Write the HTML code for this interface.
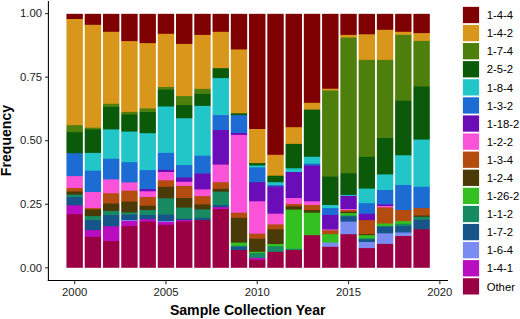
<!DOCTYPE html>
<html><head><meta charset="utf-8"><style>
html,body{margin:0;padding:0;background:#fff;}
body{width:520px;height:319px;overflow:hidden;}
svg{display:block;font-family:"Liberation Sans",sans-serif;}
</style></head><body>
<svg width="520" height="319" viewBox="0 0 520 319">
<rect x="0" y="0" width="520" height="319" fill="#fff"/>
<defs><mask id="c0" maskUnits="userSpaceOnUse" x="0" y="0" width="520" height="319"><rect x="66.44" y="13.6" width="16.43" height="254.2" fill="#fff"/></mask><mask id="c1" maskUnits="userSpaceOnUse" x="0" y="0" width="520" height="319"><rect x="84.7" y="13.6" width="16.43" height="254.2" fill="#fff"/></mask><mask id="c2" maskUnits="userSpaceOnUse" x="0" y="0" width="520" height="319"><rect x="102.96" y="13.6" width="16.43" height="254.2" fill="#fff"/></mask><mask id="c3" maskUnits="userSpaceOnUse" x="0" y="0" width="520" height="319"><rect x="121.22" y="13.6" width="16.43" height="254.2" fill="#fff"/></mask><mask id="c4" maskUnits="userSpaceOnUse" x="0" y="0" width="520" height="319"><rect x="139.47" y="13.6" width="16.43" height="254.2" fill="#fff"/></mask><mask id="c5" maskUnits="userSpaceOnUse" x="0" y="0" width="520" height="319"><rect x="157.74" y="13.6" width="16.43" height="254.2" fill="#fff"/></mask><mask id="c6" maskUnits="userSpaceOnUse" x="0" y="0" width="520" height="319"><rect x="176" y="13.6" width="16.43" height="254.2" fill="#fff"/></mask><mask id="c7" maskUnits="userSpaceOnUse" x="0" y="0" width="520" height="319"><rect x="194.26" y="13.6" width="16.43" height="254.2" fill="#fff"/></mask><mask id="c8" maskUnits="userSpaceOnUse" x="0" y="0" width="520" height="319"><rect x="212.52" y="13.6" width="16.43" height="254.2" fill="#fff"/></mask><mask id="c9" maskUnits="userSpaceOnUse" x="0" y="0" width="520" height="319"><rect x="230.78" y="13.6" width="16.43" height="254.2" fill="#fff"/></mask><mask id="c10" maskUnits="userSpaceOnUse" x="0" y="0" width="520" height="319"><rect x="249.03" y="13.6" width="16.43" height="254.2" fill="#fff"/></mask><mask id="c11" maskUnits="userSpaceOnUse" x="0" y="0" width="520" height="319"><rect x="267.3" y="13.6" width="16.43" height="254.2" fill="#fff"/></mask><mask id="c12" maskUnits="userSpaceOnUse" x="0" y="0" width="520" height="319"><rect x="285.56" y="13.6" width="16.43" height="254.2" fill="#fff"/></mask><mask id="c13" maskUnits="userSpaceOnUse" x="0" y="0" width="520" height="319"><rect x="303.82" y="13.6" width="16.43" height="254.2" fill="#fff"/></mask><mask id="c14" maskUnits="userSpaceOnUse" x="0" y="0" width="520" height="319"><rect x="322.08" y="13.6" width="16.43" height="254.2" fill="#fff"/></mask><mask id="c15" maskUnits="userSpaceOnUse" x="0" y="0" width="520" height="319"><rect x="340.34" y="13.6" width="16.43" height="254.2" fill="#fff"/></mask><mask id="c16" maskUnits="userSpaceOnUse" x="0" y="0" width="520" height="319"><rect x="358.6" y="13.6" width="16.43" height="254.2" fill="#fff"/></mask><mask id="c17" maskUnits="userSpaceOnUse" x="0" y="0" width="520" height="319"><rect x="376.86" y="13.6" width="16.43" height="254.2" fill="#fff"/></mask><mask id="c18" maskUnits="userSpaceOnUse" x="0" y="0" width="520" height="319"><rect x="395.12" y="13.6" width="16.43" height="254.2" fill="#fff"/></mask><mask id="c19" maskUnits="userSpaceOnUse" x="0" y="0" width="520" height="319"><rect x="413.38" y="13.6" width="16.43" height="254.2" fill="#fff"/></mask></defs>
<g mask="url(#c0)"><rect x="64.44" y="13.6" width="20.43" height="256.2" fill="#7f0000"/><rect x="64.44" y="19" width="20.43" height="250.8" fill="#d8961a"/><rect x="64.44" y="125.2" width="20.43" height="144.6" fill="#4e7f0c"/><rect x="64.44" y="132.2" width="20.43" height="137.6" fill="#0a5a0a"/><rect x="64.44" y="153.2" width="20.43" height="116.6" fill="#1c6cd4"/><rect x="64.44" y="176.1" width="20.43" height="93.7" fill="#fa52d8"/><rect x="64.44" y="188" width="20.43" height="81.8" fill="#b44c10"/><rect x="64.44" y="191.5" width="20.43" height="78.3" fill="#4a3a08"/><rect x="64.44" y="194.6" width="20.43" height="75.2" fill="#178a62"/><rect x="64.44" y="197" width="20.43" height="72.8" fill="#17548a"/><rect x="64.44" y="205.3" width="20.43" height="64.5" fill="#ba0cc0"/><rect x="64.44" y="214.2" width="20.43" height="55.6" fill="#9c0044"/></g>
<g mask="url(#c1)"><rect x="82.7" y="13.6" width="20.43" height="256.2" fill="#7f0000"/><rect x="82.7" y="24.8" width="20.43" height="245" fill="#d8961a"/><rect x="82.7" y="127.7" width="20.43" height="142.1" fill="#4e7f0c"/><rect x="82.7" y="129.4" width="20.43" height="140.4" fill="#0a5a0a"/><rect x="82.7" y="152.9" width="20.43" height="116.9" fill="#22c5c8"/><rect x="82.7" y="170.7" width="20.43" height="99.1" fill="#1c6cd4"/><rect x="82.7" y="192" width="20.43" height="77.8" fill="#fa52d8"/><rect x="82.7" y="208.1" width="20.43" height="61.7" fill="#b44c10"/><rect x="82.7" y="209.4" width="20.43" height="60.4" fill="#4a3a08"/><rect x="82.7" y="216.1" width="20.43" height="53.7" fill="#178a62"/><rect x="82.7" y="220.1" width="20.43" height="49.7" fill="#17548a"/><rect x="82.7" y="230.1" width="20.43" height="39.7" fill="#ba0cc0"/><rect x="82.7" y="236.9" width="20.43" height="32.9" fill="#9c0044"/></g>
<g mask="url(#c2)"><rect x="100.96" y="13.6" width="20.43" height="256.2" fill="#7f0000"/><rect x="100.96" y="31.8" width="20.43" height="238" fill="#d8961a"/><rect x="100.96" y="103.8" width="20.43" height="166" fill="#4e7f0c"/><rect x="100.96" y="106.9" width="20.43" height="162.9" fill="#0a5a0a"/><rect x="100.96" y="129.4" width="20.43" height="140.4" fill="#22c5c8"/><rect x="100.96" y="158.7" width="20.43" height="111.1" fill="#1c6cd4"/><rect x="100.96" y="179.4" width="20.43" height="90.4" fill="#fa52d8"/><rect x="100.96" y="193.3" width="20.43" height="76.5" fill="#b44c10"/><rect x="100.96" y="203.5" width="20.43" height="66.3" fill="#4a3a08"/><rect x="100.96" y="210.9" width="20.43" height="58.9" fill="#178a62"/><rect x="100.96" y="215" width="20.43" height="54.8" fill="#17548a"/><rect x="100.96" y="226.3" width="20.43" height="43.5" fill="#ba0cc0"/><rect x="100.96" y="241.1" width="20.43" height="28.7" fill="#9c0044"/></g>
<g mask="url(#c3)"><rect x="119.22" y="13.6" width="20.43" height="256.2" fill="#7f0000"/><rect x="119.22" y="41.1" width="20.43" height="228.7" fill="#d8961a"/><rect x="119.22" y="111.9" width="20.43" height="157.9" fill="#4e7f0c"/><rect x="119.22" y="114.5" width="20.43" height="155.3" fill="#0a5a0a"/><rect x="119.22" y="131.6" width="20.43" height="138.2" fill="#22c5c8"/><rect x="119.22" y="162.2" width="20.43" height="107.6" fill="#1c6cd4"/><rect x="119.22" y="182.4" width="20.43" height="87.4" fill="#fa52d8"/><rect x="119.22" y="190.7" width="20.43" height="79.1" fill="#b44c10"/><rect x="119.22" y="201.6" width="20.43" height="68.2" fill="#4a3a08"/><rect x="119.22" y="212.4" width="20.43" height="57.4" fill="#178a62"/><rect x="119.22" y="214.6" width="20.43" height="55.2" fill="#17548a"/><rect x="119.22" y="220.1" width="20.43" height="49.7" fill="#7a8cf2"/><rect x="119.22" y="221" width="20.43" height="48.8" fill="#ba0cc0"/><rect x="119.22" y="226.1" width="20.43" height="43.7" fill="#9c0044"/></g>
<g mask="url(#c4)"><rect x="137.47" y="13.6" width="20.43" height="256.2" fill="#7f0000"/><rect x="137.47" y="43.1" width="20.43" height="226.7" fill="#d8961a"/><rect x="137.47" y="108.4" width="20.43" height="161.4" fill="#4e7f0c"/><rect x="137.47" y="112" width="20.43" height="157.8" fill="#0a5a0a"/><rect x="137.47" y="133.2" width="20.43" height="136.6" fill="#22c5c8"/><rect x="137.47" y="170.1" width="20.43" height="99.7" fill="#1c6cd4"/><rect x="137.47" y="189.1" width="20.43" height="80.7" fill="#6a0cb8"/><rect x="137.47" y="191.3" width="20.43" height="78.5" fill="#fa52d8"/><rect x="137.47" y="197" width="20.43" height="72.8" fill="#b44c10"/><rect x="137.47" y="205.7" width="20.43" height="64.1" fill="#4a3a08"/><rect x="137.47" y="210" width="20.43" height="59.8" fill="#178a62"/><rect x="137.47" y="215" width="20.43" height="54.8" fill="#17548a"/><rect x="137.47" y="219.2" width="20.43" height="50.6" fill="#ba0cc0"/><rect x="137.47" y="221.6" width="20.43" height="48.2" fill="#9c0044"/></g>
<g mask="url(#c5)"><rect x="155.74" y="13.6" width="20.43" height="256.2" fill="#7f0000"/><rect x="155.74" y="33.8" width="20.43" height="236" fill="#d8961a"/><rect x="155.74" y="87" width="20.43" height="182.8" fill="#4e7f0c"/><rect x="155.74" y="89.6" width="20.43" height="180.2" fill="#0a5a0a"/><rect x="155.74" y="106.5" width="20.43" height="163.3" fill="#22c5c8"/><rect x="155.74" y="152.9" width="20.43" height="116.9" fill="#1c6cd4"/><rect x="155.74" y="169.8" width="20.43" height="100" fill="#6a0cb8"/><rect x="155.74" y="172" width="20.43" height="97.8" fill="#fa52d8"/><rect x="155.74" y="180.3" width="20.43" height="89.5" fill="#b44c10"/><rect x="155.74" y="186.8" width="20.43" height="83" fill="#4a3a08"/><rect x="155.74" y="198.3" width="20.43" height="71.5" fill="#178a62"/><rect x="155.74" y="214.6" width="20.43" height="55.2" fill="#17548a"/><rect x="155.74" y="221.1" width="20.43" height="48.7" fill="#7a8cf2"/><rect x="155.74" y="222" width="20.43" height="47.8" fill="#ba0cc0"/><rect x="155.74" y="224.8" width="20.43" height="45" fill="#9c0044"/></g>
<g mask="url(#c6)"><rect x="174" y="13.6" width="20.43" height="256.2" fill="#7f0000"/><rect x="174" y="43.9" width="20.43" height="225.9" fill="#d8961a"/><rect x="174" y="96.1" width="20.43" height="173.7" fill="#4e7f0c"/><rect x="174" y="105" width="20.43" height="164.8" fill="#0a5a0a"/><rect x="174" y="118.3" width="20.43" height="151.5" fill="#22c5c8"/><rect x="174" y="165" width="20.43" height="104.8" fill="#1c6cd4"/><rect x="174" y="177.5" width="20.43" height="92.3" fill="#6a0cb8"/><rect x="174" y="181.8" width="20.43" height="88" fill="#fa52d8"/><rect x="174" y="185.9" width="20.43" height="83.9" fill="#b44c10"/><rect x="174" y="198" width="20.43" height="71.8" fill="#4a3a08"/><rect x="174" y="207.6" width="20.43" height="62.2" fill="#178a62"/><rect x="174" y="218.7" width="20.43" height="51.1" fill="#17548a"/><rect x="174" y="220.1" width="20.43" height="49.7" fill="#ba0cc0"/><rect x="174" y="221.6" width="20.43" height="48.2" fill="#9c0044"/></g>
<g mask="url(#c7)"><rect x="192.26" y="13.6" width="20.43" height="256.2" fill="#7f0000"/><rect x="192.26" y="34.9" width="20.43" height="234.9" fill="#d8961a"/><rect x="192.26" y="88.9" width="20.43" height="180.9" fill="#4e7f0c"/><rect x="192.26" y="93.9" width="20.43" height="175.9" fill="#0a5a0a"/><rect x="192.26" y="105.9" width="20.43" height="163.9" fill="#22c5c8"/><rect x="192.26" y="155.7" width="20.43" height="114.1" fill="#1c6cd4"/><rect x="192.26" y="173.5" width="20.43" height="96.3" fill="#6a0cb8"/><rect x="192.26" y="189.4" width="20.43" height="80.4" fill="#fa52d8"/><rect x="192.26" y="196.1" width="20.43" height="73.7" fill="#b44c10"/><rect x="192.26" y="204.4" width="20.43" height="65.4" fill="#4a3a08"/><rect x="192.26" y="209.4" width="20.43" height="60.4" fill="#178a62"/><rect x="192.26" y="217.9" width="20.43" height="51.9" fill="#17548a"/><rect x="192.26" y="220.1" width="20.43" height="49.7" fill="#9c0044"/></g>
<g mask="url(#c8)"><rect x="210.52" y="13.6" width="20.43" height="256.2" fill="#7f0000"/><rect x="210.52" y="31.8" width="20.43" height="238" fill="#d8961a"/><rect x="210.52" y="68.2" width="20.43" height="201.6" fill="#0a5a0a"/><rect x="210.52" y="78.1" width="20.43" height="191.7" fill="#22c5c8"/><rect x="210.52" y="115.1" width="20.43" height="154.7" fill="#1c6cd4"/><rect x="210.52" y="130" width="20.43" height="139.8" fill="#6a0cb8"/><rect x="210.52" y="164.6" width="20.43" height="105.2" fill="#fa52d8"/><rect x="210.52" y="182.2" width="20.43" height="87.6" fill="#b44c10"/><rect x="210.52" y="188.8" width="20.43" height="81" fill="#4a3a08"/><rect x="210.52" y="191.7" width="20.43" height="78.1" fill="#178a62"/><rect x="210.52" y="205" width="20.43" height="64.8" fill="#17548a"/><rect x="210.52" y="207.2" width="20.43" height="62.6" fill="#ba0cc0"/><rect x="210.52" y="209" width="20.43" height="60.8" fill="#9c0044"/></g>
<g mask="url(#c9)"><rect x="228.78" y="13.6" width="20.43" height="256.2" fill="#7f0000"/><rect x="228.78" y="49.4" width="20.43" height="220.4" fill="#d8961a"/><rect x="228.78" y="113.3" width="20.43" height="156.5" fill="#0a5a0a"/><rect x="228.78" y="115.1" width="20.43" height="154.7" fill="#1c6cd4"/><rect x="228.78" y="133" width="20.43" height="136.8" fill="#6a0cb8"/><rect x="228.78" y="134.9" width="20.43" height="134.9" fill="#fa52d8"/><rect x="228.78" y="212.7" width="20.43" height="57.1" fill="#b44c10"/><rect x="228.78" y="217.9" width="20.43" height="51.9" fill="#4a3a08"/><rect x="228.78" y="242.6" width="20.43" height="27.2" fill="#34c020"/><rect x="228.78" y="245.7" width="20.43" height="24.1" fill="#178a62"/><rect x="228.78" y="246.8" width="20.43" height="23" fill="#17548a"/><rect x="228.78" y="250" width="20.43" height="19.8" fill="#9c0044"/></g>
<g mask="url(#c10)"><rect x="247.03" y="13.6" width="20.43" height="256.2" fill="#7f0000"/><rect x="247.03" y="129" width="20.43" height="140.8" fill="#d8961a"/><rect x="247.03" y="163.1" width="20.43" height="106.7" fill="#0a5a0a"/><rect x="247.03" y="165.5" width="20.43" height="104.3" fill="#22c5c8"/><rect x="247.03" y="167.4" width="20.43" height="102.4" fill="#1c6cd4"/><rect x="247.03" y="182.2" width="20.43" height="87.6" fill="#6a0cb8"/><rect x="247.03" y="201.3" width="20.43" height="68.5" fill="#fa52d8"/><rect x="247.03" y="233.7" width="20.43" height="36.1" fill="#b44c10"/><rect x="247.03" y="238.8" width="20.43" height="31" fill="#4a3a08"/><rect x="247.03" y="251.8" width="20.43" height="18" fill="#34c020"/><rect x="247.03" y="253.1" width="20.43" height="16.7" fill="#178a62"/><rect x="247.03" y="257.9" width="20.43" height="11.9" fill="#ba0cc0"/><rect x="247.03" y="259.8" width="20.43" height="10" fill="#9c0044"/></g>
<g mask="url(#c11)"><rect x="265.3" y="13.6" width="20.43" height="256.2" fill="#7f0000"/><rect x="265.3" y="154.8" width="20.43" height="115" fill="#d8961a"/><rect x="265.3" y="175.7" width="20.43" height="94.1" fill="#0a5a0a"/><rect x="265.3" y="182.2" width="20.43" height="87.6" fill="#22c5c8"/><rect x="265.3" y="185" width="20.43" height="84.8" fill="#1c6cd4"/><rect x="265.3" y="186.5" width="20.43" height="83.3" fill="#6a0cb8"/><rect x="265.3" y="213.7" width="20.43" height="56.1" fill="#fa52d8"/><rect x="265.3" y="224.4" width="20.43" height="45.4" fill="#b44c10"/><rect x="265.3" y="229.3" width="20.43" height="40.5" fill="#4a3a08"/><rect x="265.3" y="244" width="20.43" height="25.8" fill="#34c020"/><rect x="265.3" y="246.3" width="20.43" height="23.5" fill="#178a62"/><rect x="265.3" y="251.8" width="20.43" height="18" fill="#9c0044"/></g>
<g mask="url(#c12)"><rect x="283.56" y="13.6" width="20.43" height="256.2" fill="#7f0000"/><rect x="283.56" y="127.2" width="20.43" height="142.6" fill="#d8961a"/><rect x="283.56" y="143.9" width="20.43" height="125.9" fill="#0a5a0a"/><rect x="283.56" y="168.3" width="20.43" height="101.5" fill="#22c5c8"/><rect x="283.56" y="172" width="20.43" height="97.8" fill="#6a0cb8"/><rect x="283.56" y="198" width="20.43" height="71.8" fill="#fa52d8"/><rect x="283.56" y="204" width="20.43" height="65.8" fill="#b44c10"/><rect x="283.56" y="206.3" width="20.43" height="63.5" fill="#4a3a08"/><rect x="283.56" y="209.6" width="20.43" height="60.2" fill="#34c020"/><rect x="283.56" y="248.7" width="20.43" height="21.1" fill="#178a62"/><rect x="283.56" y="250" width="20.43" height="19.8" fill="#9c0044"/></g>
<g mask="url(#c13)"><rect x="301.82" y="13.6" width="20.43" height="256.2" fill="#7f0000"/><rect x="301.82" y="102.8" width="20.43" height="167" fill="#d8961a"/><rect x="301.82" y="109.6" width="20.43" height="160.2" fill="#0a5a0a"/><rect x="301.82" y="156.8" width="20.43" height="113" fill="#22c5c8"/><rect x="301.82" y="163.7" width="20.43" height="106.1" fill="#1c6cd4"/><rect x="301.82" y="165.5" width="20.43" height="104.3" fill="#6a0cb8"/><rect x="301.82" y="201.3" width="20.43" height="68.5" fill="#fa52d8"/><rect x="301.82" y="205" width="20.43" height="64.8" fill="#b44c10"/><rect x="301.82" y="210" width="20.43" height="59.8" fill="#4a3a08"/><rect x="301.82" y="212.7" width="20.43" height="57.1" fill="#34c020"/><rect x="301.82" y="235.2" width="20.43" height="34.6" fill="#9c0044"/></g>
<g mask="url(#c14)"><rect x="320.08" y="13.6" width="20.43" height="256.2" fill="#7f0000"/><rect x="320.08" y="88.7" width="20.43" height="181.1" fill="#d8961a"/><rect x="320.08" y="90.5" width="20.43" height="179.3" fill="#4e7f0c"/><rect x="320.08" y="176.6" width="20.43" height="93.2" fill="#0a5a0a"/><rect x="320.08" y="205" width="20.43" height="64.8" fill="#22c5c8"/><rect x="320.08" y="208.1" width="20.43" height="61.7" fill="#1c6cd4"/><rect x="320.08" y="215" width="20.43" height="54.8" fill="#6a0cb8"/><rect x="320.08" y="229.4" width="20.43" height="40.4" fill="#fa52d8"/><rect x="320.08" y="230.3" width="20.43" height="39.5" fill="#b44c10"/><rect x="320.08" y="234.2" width="20.43" height="35.6" fill="#34c020"/><rect x="320.08" y="242.6" width="20.43" height="27.2" fill="#7a8cf2"/><rect x="320.08" y="246.8" width="20.43" height="23" fill="#9c0044"/></g>
<g mask="url(#c15)"><rect x="338.34" y="13.6" width="20.43" height="256.2" fill="#7f0000"/><rect x="338.34" y="34.9" width="20.43" height="234.9" fill="#d8961a"/><rect x="338.34" y="37.6" width="20.43" height="232.2" fill="#4e7f0c"/><rect x="338.34" y="173.3" width="20.43" height="96.5" fill="#0a5a0a"/><rect x="338.34" y="194.9" width="20.43" height="74.9" fill="#22c5c8"/><rect x="338.34" y="195.9" width="20.43" height="73.9" fill="#6a0cb8"/><rect x="338.34" y="209" width="20.43" height="60.8" fill="#fa52d8"/><rect x="338.34" y="210" width="20.43" height="59.8" fill="#b44c10"/><rect x="338.34" y="211.8" width="20.43" height="58" fill="#4a3a08"/><rect x="338.34" y="213.1" width="20.43" height="56.7" fill="#34c020"/><rect x="338.34" y="215.5" width="20.43" height="54.3" fill="#178a62"/><rect x="338.34" y="216.4" width="20.43" height="53.4" fill="#17548a"/><rect x="338.34" y="221.6" width="20.43" height="48.2" fill="#7a8cf2"/><rect x="338.34" y="234.2" width="20.43" height="35.6" fill="#9c0044"/></g>
<g mask="url(#c16)"><rect x="356.6" y="13.6" width="20.43" height="256.2" fill="#7f0000"/><rect x="356.6" y="34.3" width="20.43" height="235.5" fill="#d8961a"/><rect x="356.6" y="59.9" width="20.43" height="209.9" fill="#4e7f0c"/><rect x="356.6" y="156.8" width="20.43" height="113" fill="#0a5a0a"/><rect x="356.6" y="188.6" width="20.43" height="81.2" fill="#22c5c8"/><rect x="356.6" y="203.2" width="20.43" height="66.6" fill="#1c6cd4"/><rect x="356.6" y="213.8" width="20.43" height="56" fill="#6a0cb8"/><rect x="356.6" y="220.1" width="20.43" height="49.7" fill="#b44c10"/><rect x="356.6" y="234.2" width="20.43" height="35.6" fill="#4a3a08"/><rect x="356.6" y="235.2" width="20.43" height="34.6" fill="#34c020"/><rect x="356.6" y="238.3" width="20.43" height="31.5" fill="#178a62"/><rect x="356.6" y="239.4" width="20.43" height="30.4" fill="#17548a"/><rect x="356.6" y="242" width="20.43" height="27.8" fill="#7a8cf2"/><rect x="356.6" y="248.1" width="20.43" height="21.7" fill="#9c0044"/></g>
<g mask="url(#c17)"><rect x="374.86" y="13.6" width="20.43" height="256.2" fill="#7f0000"/><rect x="374.86" y="29.8" width="20.43" height="240" fill="#d8961a"/><rect x="374.86" y="59.9" width="20.43" height="209.9" fill="#4e7f0c"/><rect x="374.86" y="138" width="20.43" height="131.8" fill="#0a5a0a"/><rect x="374.86" y="174.4" width="20.43" height="95.4" fill="#22c5c8"/><rect x="374.86" y="190" width="20.43" height="79.8" fill="#1c6cd4"/><rect x="374.86" y="204.4" width="20.43" height="65.4" fill="#6a0cb8"/><rect x="374.86" y="206" width="20.43" height="63.8" fill="#fa52d8"/><rect x="374.86" y="207.4" width="20.43" height="62.4" fill="#b44c10"/><rect x="374.86" y="223.5" width="20.43" height="46.3" fill="#34c020"/><rect x="374.86" y="226.3" width="20.43" height="43.5" fill="#17548a"/><rect x="374.86" y="233.3" width="20.43" height="36.5" fill="#7a8cf2"/><rect x="374.86" y="243.9" width="20.43" height="25.9" fill="#9c0044"/></g>
<g mask="url(#c18)"><rect x="393.12" y="13.6" width="20.43" height="256.2" fill="#7f0000"/><rect x="393.12" y="31.8" width="20.43" height="238" fill="#d8961a"/><rect x="393.12" y="34.9" width="20.43" height="234.9" fill="#4e7f0c"/><rect x="393.12" y="100.7" width="20.43" height="169.1" fill="#0a5a0a"/><rect x="393.12" y="155.3" width="20.43" height="114.5" fill="#22c5c8"/><rect x="393.12" y="185" width="20.43" height="84.8" fill="#1c6cd4"/><rect x="393.12" y="210" width="20.43" height="59.8" fill="#b44c10"/><rect x="393.12" y="221.1" width="20.43" height="48.7" fill="#34c020"/><rect x="393.12" y="223.8" width="20.43" height="46" fill="#178a62"/><rect x="393.12" y="226.1" width="20.43" height="43.7" fill="#17548a"/><rect x="393.12" y="232.5" width="20.43" height="37.3" fill="#7a8cf2"/><rect x="393.12" y="236" width="20.43" height="33.8" fill="#9c0044"/></g>
<g mask="url(#c19)"><rect x="411.38" y="13.6" width="20.43" height="256.2" fill="#7f0000"/><rect x="411.38" y="33.1" width="20.43" height="236.7" fill="#d8961a"/><rect x="411.38" y="40.9" width="20.43" height="228.9" fill="#4e7f0c"/><rect x="411.38" y="86.5" width="20.43" height="183.3" fill="#0a5a0a"/><rect x="411.38" y="139.6" width="20.43" height="130.2" fill="#22c5c8"/><rect x="411.38" y="186.8" width="20.43" height="83" fill="#1c6cd4"/><rect x="411.38" y="208.1" width="20.43" height="61.7" fill="#b44c10"/><rect x="411.38" y="215.5" width="20.43" height="54.3" fill="#4a3a08"/><rect x="411.38" y="216.8" width="20.43" height="53" fill="#178a62"/><rect x="411.38" y="219.8" width="20.43" height="50" fill="#17548a"/><rect x="411.38" y="229.3" width="20.43" height="40.5" fill="#9c0044"/></g>

<line x1="48.4" y1="0.9" x2="48.4" y2="281.05" stroke="#000" stroke-width="1.07"/><line x1="47.85" y1="280.5" x2="448" y2="280.5" stroke="#000" stroke-width="1.07"/><line x1="45" y1="267.8" x2="48.4" y2="267.8" stroke="#333" stroke-width="1.1"/><text x="42" y="271.5" font-size="11.3" fill="#222" text-anchor="end">0.00</text><line x1="45" y1="204.25" x2="48.4" y2="204.25" stroke="#333" stroke-width="1.1"/><text x="42" y="207.95" font-size="11.3" fill="#222" text-anchor="end">0.25</text><line x1="45" y1="140.7" x2="48.4" y2="140.7" stroke="#333" stroke-width="1.1"/><text x="42" y="144.4" font-size="11.3" fill="#222" text-anchor="end">0.50</text><line x1="45" y1="77.15" x2="48.4" y2="77.15" stroke="#333" stroke-width="1.1"/><text x="42" y="80.85" font-size="11.3" fill="#222" text-anchor="end">0.75</text><line x1="45" y1="13.6" x2="48.4" y2="13.6" stroke="#333" stroke-width="1.1"/><text x="42" y="17.3" font-size="11.3" fill="#222" text-anchor="end">1.00</text><line x1="74.65" y1="280.5" x2="74.65" y2="284.2" stroke="#333" stroke-width="1.1"/><text x="74.65" y="295.9" font-size="11.3" fill="#222" text-anchor="middle">2000</text><line x1="165.95" y1="280.5" x2="165.95" y2="284.2" stroke="#333" stroke-width="1.1"/><text x="165.95" y="295.9" font-size="11.3" fill="#222" text-anchor="middle">2005</text><line x1="257.25" y1="280.5" x2="257.25" y2="284.2" stroke="#333" stroke-width="1.1"/><text x="257.25" y="295.9" font-size="11.3" fill="#222" text-anchor="middle">2010</text><line x1="348.55" y1="280.5" x2="348.55" y2="284.2" stroke="#333" stroke-width="1.1"/><text x="348.55" y="295.9" font-size="11.3" fill="#222" text-anchor="middle">2015</text><line x1="439.85" y1="280.5" x2="439.85" y2="284.2" stroke="#333" stroke-width="1.1"/><text x="439.85" y="295.9" font-size="11.3" fill="#222" text-anchor="middle">2020</text><text x="247.7" y="315" font-size="14.1" font-weight="bold" fill="#000" text-anchor="middle">Sample Collection Year</text><text transform="translate(11,140.5) rotate(-90)" font-size="14.1" font-weight="bold" fill="#000" text-anchor="middle">Frequency</text><rect x="462.9" y="6.85" width="16.2" height="16.3" fill="#7f0000"/><text x="486.7" y="19.15" font-size="11.3" fill="#000">1-4-4</text><rect x="462.9" y="24.94" width="16.2" height="16.3" fill="#d8961a"/><text x="486.7" y="37.24" font-size="11.3" fill="#000">1-4-2</text><rect x="462.9" y="43.03" width="16.2" height="16.3" fill="#4e7f0c"/><text x="486.7" y="55.33" font-size="11.3" fill="#000">1-7-4</text><rect x="462.9" y="61.12" width="16.2" height="16.3" fill="#0a5a0a"/><text x="486.7" y="73.42" font-size="11.3" fill="#000">2-5-2</text><rect x="462.9" y="79.21" width="16.2" height="16.3" fill="#22c5c8"/><text x="486.7" y="91.51" font-size="11.3" fill="#000">1-8-4</text><rect x="462.9" y="97.3" width="16.2" height="16.3" fill="#1c6cd4"/><text x="486.7" y="109.6" font-size="11.3" fill="#000">1-3-2</text><rect x="462.9" y="115.39" width="16.2" height="16.3" fill="#6a0cb8"/><text x="486.7" y="127.69" font-size="11.3" fill="#000">1-18-2</text><rect x="462.9" y="133.48" width="16.2" height="16.3" fill="#fa52d8"/><text x="486.7" y="145.78" font-size="11.3" fill="#000">1-2-2</text><rect x="462.9" y="151.57" width="16.2" height="16.3" fill="#b44c10"/><text x="486.7" y="163.87" font-size="11.3" fill="#000">1-3-4</text><rect x="462.9" y="169.66" width="16.2" height="16.3" fill="#4a3a08"/><text x="486.7" y="181.96" font-size="11.3" fill="#000">1-2-4</text><rect x="462.9" y="187.75" width="16.2" height="16.3" fill="#34c020"/><text x="486.7" y="200.05" font-size="11.3" fill="#000">1-26-2</text><rect x="462.9" y="205.84" width="16.2" height="16.3" fill="#178a62"/><text x="486.7" y="218.14" font-size="11.3" fill="#000">1-1-2</text><rect x="462.9" y="223.93" width="16.2" height="16.3" fill="#17548a"/><text x="486.7" y="236.23" font-size="11.3" fill="#000">1-7-2</text><rect x="462.9" y="242.02" width="16.2" height="16.3" fill="#7a8cf2"/><text x="486.7" y="254.32" font-size="11.3" fill="#000">1-6-4</text><rect x="462.9" y="260.11" width="16.2" height="16.3" fill="#ba0cc0"/><text x="486.7" y="272.41" font-size="11.3" fill="#000">1-4-1</text><rect x="462.9" y="278.2" width="16.2" height="16.3" fill="#9c0044"/><text x="486.7" y="290.5" font-size="11.3" fill="#000">Other</text>
</svg>
</body></html>
